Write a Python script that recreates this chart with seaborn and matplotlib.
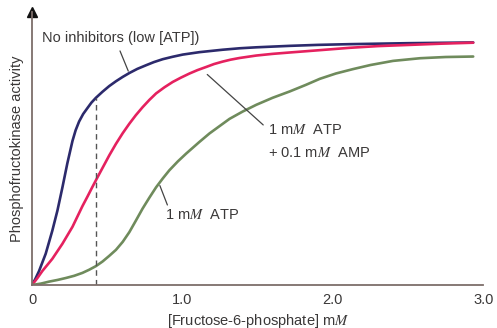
import numpy as np
import pandas as pd
import matplotlib
matplotlib.use('Agg')
import matplotlib.pyplot as plt
import seaborn as sns

# values
blue_x = [0.0, 0.022, 0.047, 0.091, 0.135, 0.169, 0.202, 0.235, 0.269, 0.29, 0.313, 0.34, 0.369,
          0.395, 0.425, 0.469, 0.513, 0.558, 0.603, 0.647, 0.7, 0.758, 0.81, 0.869, 0.935, 1.002,
          1.113, 1.267, 1.38, 1.491, 1.713, 1.9, 2.113, 2.5, 2.933]
blue_y = [0.0, 0.025, 0.058, 0.129, 0.224, 0.307, 0.402, 0.502, 0.594, 0.638, 0.674, 0.705, 0.73,
          0.752, 0.772, 0.797, 0.82, 0.84, 0.858, 0.874, 0.891, 0.906, 0.919, 0.931, 0.941, 0.95,
          0.96, 0.97, 0.976, 0.98, 0.986, 0.99, 0.993, 0.997, 1.0]

pink_x = [0.0, 0.035, 0.069, 0.135, 0.202, 0.269, 0.335, 0.369, 0.402, 0.436, 0.469, 0.514, 0.558,
          0.603, 0.647, 0.69, 0.735, 0.78, 0.825, 0.88, 0.935, 0.99, 1.047, 1.1, 1.158, 1.21,
          1.267, 1.32, 1.38, 1.49, 1.6, 1.72, 1.825, 1.97, 2.113, 2.3, 2.513, 2.72, 2.933]
pink_y = [0.0, 0.028, 0.058, 0.108, 0.170, 0.240, 0.325, 0.365, 0.405, 0.445, 0.483, 0.535, 0.582,
          0.626, 0.665, 0.70, 0.733, 0.763, 0.79, 0.815, 0.837, 0.855, 0.872, 0.886, 0.899, 0.911,
          0.921, 0.929, 0.936, 0.946, 0.953, 0.959, 0.964, 0.971, 0.978, 0.985, 0.99, 0.995, 0.999]

green_x = [0.0, 0.06, 0.113, 0.17, 0.225, 0.28, 0.335, 0.38, 0.425, 0.469, 0.513, 0.558, 0.603,
           0.647, 0.69, 0.735, 0.78, 0.825, 0.87, 0.913, 0.97, 1.025, 1.113, 1.18, 1.313, 1.4,
           1.491, 1.6, 1.713, 1.82, 1.913, 2.02, 2.133, 2.25, 2.4, 2.58, 2.75, 2.933]
green_y = [0.0, 0.006, 0.014, 0.021, 0.029, 0.038, 0.05, 0.063, 0.078, 0.097, 0.12, 0.145, 0.178,
           0.218, 0.265, 0.315, 0.36, 0.403, 0.44, 0.473, 0.51, 0.542, 0.59, 0.625, 0.685, 0.715,
           0.743, 0.772, 0.798, 0.825, 0.85, 0.872, 0.89, 0.907, 0.924, 0.935, 0.94, 0.942]

dash_x = 0.425
dash_top = 0.772

x_ticks = [0, 0.5, 1.0, 1.5, 2.0, 2.5, 3.0]
x_tick_labels = ['0', '', '1.0', '', '2.0', '', '3.0']

series = ['none', 'amp', 'atp']
colors = {'none': '#2c2a6c', 'amp': '#e5215f', 'atp': '#6f8b5c'}

df = pd.concat([
    pd.DataFrame({'x': blue_x, 'y': blue_y, 'curve': 'none'}),
    pd.DataFrame({'x': pink_x, 'y': pink_y, 'curve': 'amp'}),
    pd.DataFrame({'x': green_x, 'y': green_y, 'curve': 'atp'}),
])

sns.set_style('white')
plt.rcParams['font.family'] = ['Liberation Sans', 'DejaVu Sans']
plt.rcParams['mathtext.fontset'] = 'stix'

TEXT = '#3a3838'
AXIS = '#7d6e6a'

fig = plt.figure(figsize=(4.97, 3.28), dpi=100)
ax = fig.add_axes([0.0644, 0.131, 0.908, 0.832])

sns.lineplot(data=df, x='x', y='y', hue='curve', hue_order=series, palette=colors,
             sort=False, estimator=None, linewidth=1.9, legend=False, ax=ax)
for line in ax.get_lines():
    line.set_solid_joinstyle('round')
    line.set_solid_capstyle('round')

ax.plot([dash_x, dash_x], [0, dash_top], color='#555555', lw=1.0, ls=(0, (4, 3)))

ax.set_xlim(0, 3.0)
ax.set_ylim(0, 1.125)

for s in ['top', 'right']:
    ax.spines[s].set_visible(False)
for s in ['left', 'bottom']:
    ax.spines[s].set_color(AXIS)
    ax.spines[s].set_linewidth(1.3)
ax.plot(0, 1, marker='^', markersize=7, color='#111111', transform=ax.transAxes, clip_on=False)

ax.set_yticks([])
ax.set_xticks(x_ticks)
ax.set_xticklabels(x_tick_labels)
ax.tick_params(axis='x', direction='in', length=11, width=1.1, color=AXIS,
               labelsize=10.5, labelcolor=TEXT, pad=6)

ax.set_xlabel('[Fructose-6-phosphate] m$\\mathit{M}$', fontsize=10.5, color=TEXT, labelpad=3)
ax.set_ylabel('Phosphofructokinase activity', fontsize=10.5, color=TEXT, labelpad=6)

ax.text(0.067, 1.02, 'No inhibitors (low [ATP])', fontsize=10.5, color=TEXT, va='center', ha='left')
ax.plot([0.585, 0.64], [0.965, 0.882], color='#444444', lw=0.9)

ax.text(1.57, 0.64, '1 m$\\mathit{M}$  ATP', fontsize=10.5, color=TEXT, va='center')
ax.text(1.57, 0.545, '+ 0.1 m$\\mathit{M}$  AMP', fontsize=10.5, color=TEXT, va='center')
ax.plot([1.165, 1.537], [0.868, 0.66], color='#444444', lw=0.9)

ax.text(0.885, 0.29, '1 m$\\mathit{M}$  ATP', fontsize=10.5, color=TEXT, va='center')
ax.plot([0.85, 0.9], [0.41, 0.33], color='#444444', lw=0.9)

fig.savefig('out.png', dpi=100)
